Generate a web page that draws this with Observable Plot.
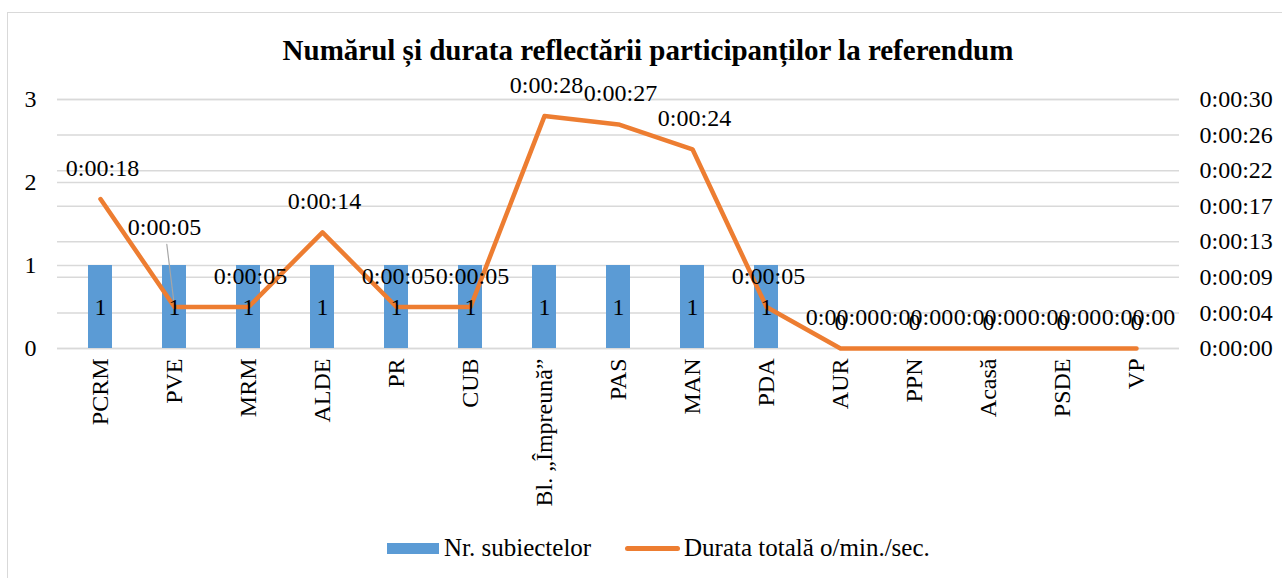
<!DOCTYPE html>
<html><head><meta charset="utf-8">
<script src="https://cdn.jsdelivr.net/npm/d3@7"></script>
<script src="https://cdn.jsdelivr.net/npm/@observablehq/plot@0.6"></script>
<style>
body{margin:0;background:#fff;}
#wrap{position:relative;width:1282px;height:578px;overflow:hidden;font-family:"Liberation Serif","Times New Roman",serif;color:#000;}
#frame{position:absolute;left:7px;top:12px;width:1320px;height:620px;border:1px solid #d9d9d9;box-sizing:border-box;pointer-events:none;}
#title{height:70px;box-sizing:border-box;padding-top:34px;line-height:32px;font-size:29px;font-weight:bold;text-align:center;padding-left:14px;}
#chart svg{display:block;}
#chart svg text{font-family:"Liberation Serif","Times New Roman",serif !important;font-variant:normal !important;}
#legend{position:absolute;left:0;top:537px;height:22px;line-height:22px;font-size:25px;width:100%;}
.item{position:absolute;top:0;display:flex;align-items:center;height:22px;}
.sw-bar{width:52px;height:11px;background:#5B9BD5;margin-right:5px;}
.sw-line{width:55px;height:5px;border-radius:3px;background:#ED7D31;margin-right:4px;}
</style>
</head><body>
<div id="wrap">
  <div id="frame"></div>
  <div id="title">Numărul și durata reflectării participanților la referendum</div>
  <div id="chart"></div>
  <div id="legend">
    <div class="item" style="left:387px"><div class="sw-bar"></div><span>Nr. subiectelor</span></div>
    <div class="item" style="left:625px"><div class="sw-line"></div><span>Durata totală o/min./sec.</span></div>
  </div>
</div>
<script>
const categories = ["PCRM","PVE","MRM","ALDE","PR","CUB","Bl. „Împreună”","PAS","MAN","PDA","AUR","PPN","Acasă","PSDE","VP"];
const subjects = [1,1,1,1,1,1,1,1,1,1,0,0,0,0,0];
const durationSec = [18,5,5,14,5,5,28,27,24,5,0,0,0,0,0];
const leftTicks = [0,1,2,3];
const rightTickLabels = ["0:00:00","0:00:04","0:00:09","0:00:13","0:00:17","0:00:22","0:00:26","0:00:30"];
const countMax = 3;
const durationMax = 30;

const fmtTime = s => "0:00:" + String(s).padStart(2, "0");
const rows = categories.map((c, i) => ({cat: c, n: subjects[i], sec: durationSec[i], yd: durationSec[i] * countMax / durationMax}));
const rightTicks = rightTickLabels.map((_, i) => i * countMax / (rightTickLabels.length - 1));
const leaderCat = "PVE";

const serif = "Liberation Serif, Times New Roman, serif";
const txt = {fill: "#000", fontFamily: serif, fontSize: 24};
const grid = {stroke: "#d9d9d9", strokeWidth: 1.5, strokeOpacity: 1};
const chart = Plot.plot({
  width: 1282,
  height: 460,
  marginTop: 29,
  marginBottom: 182,
  marginLeft: 57,
  marginRight: 103,
  style: {fontFamily: serif, fontSize: "24px", color: "#000", background: "transparent", overflow: "visible"},
  x: {domain: categories, paddingInner: 0.68, paddingOuter: 0.34},
  y: {domain: [0, countMax]},
  marks: [
    Plot.ruleY(rightTicks, grid),
    Plot.ruleY(leftTicks, grid),
    Plot.barY(rows, {x: "cat", y: "n", fill: "#5B9BD5"}),
    Plot.line(rows, {x: "cat", y: "yd", stroke: "#ED7D31", strokeWidth: 4.5, strokeLinejoin: "round", strokeLinecap: "round"}),
    Plot.vector(rows.filter(d => d.cat === leaderCat), {x: "cat", y: "yd", length: 63, rotate: -7, anchor: "start", stroke: "#a6a6a6", strokeWidth: 1.2,
      shape: {draw(ctx, l) { ctx.moveTo(0, -2); ctx.lineTo(0, -l); }}}),
    Plot.text(rows.filter(d => d.n > 0), {x: "cat", y: d => d.n / 2, text: d => String(d.n), ...txt}),
    Plot.text(rows.filter(d => d.n === 0), {x: "cat", y: "n", dy: -26, text: d => String(d.n), ...txt}),
    Plot.text(rows.filter(d => d.cat !== leaderCat), {x: "cat", y: "yd", dx: 2, dy: -31, text: d => fmtTime(d.sec), ...txt}),
    Plot.text(rows.filter(d => d.cat === leaderCat), {x: "cat", y: "yd", dx: -10, dy: -80, text: d => fmtTime(d.sec), ...txt}),
    Plot.axisY(leftTicks, {anchor: "left", tickSize: 0, tickPadding: 21, tickFormat: d => String(d), label: null, fontFamily: serif, fontSize: 24}),
    Plot.axisY(rightTicks, {anchor: "right", tickSize: 0, tickPadding: 20, textAnchor: "start", tickFormat: d => rightTickLabels[rightTicks.indexOf(d)], label: null, fontFamily: serif, fontSize: 24}),
    Plot.axisX({tickRotate: -90, tickSize: 0, tickPadding: 10, label: null, fontFamily: serif, fontSize: 24})
  ]
});
document.getElementById("chart").appendChild(chart);
</script>
</body></html>
